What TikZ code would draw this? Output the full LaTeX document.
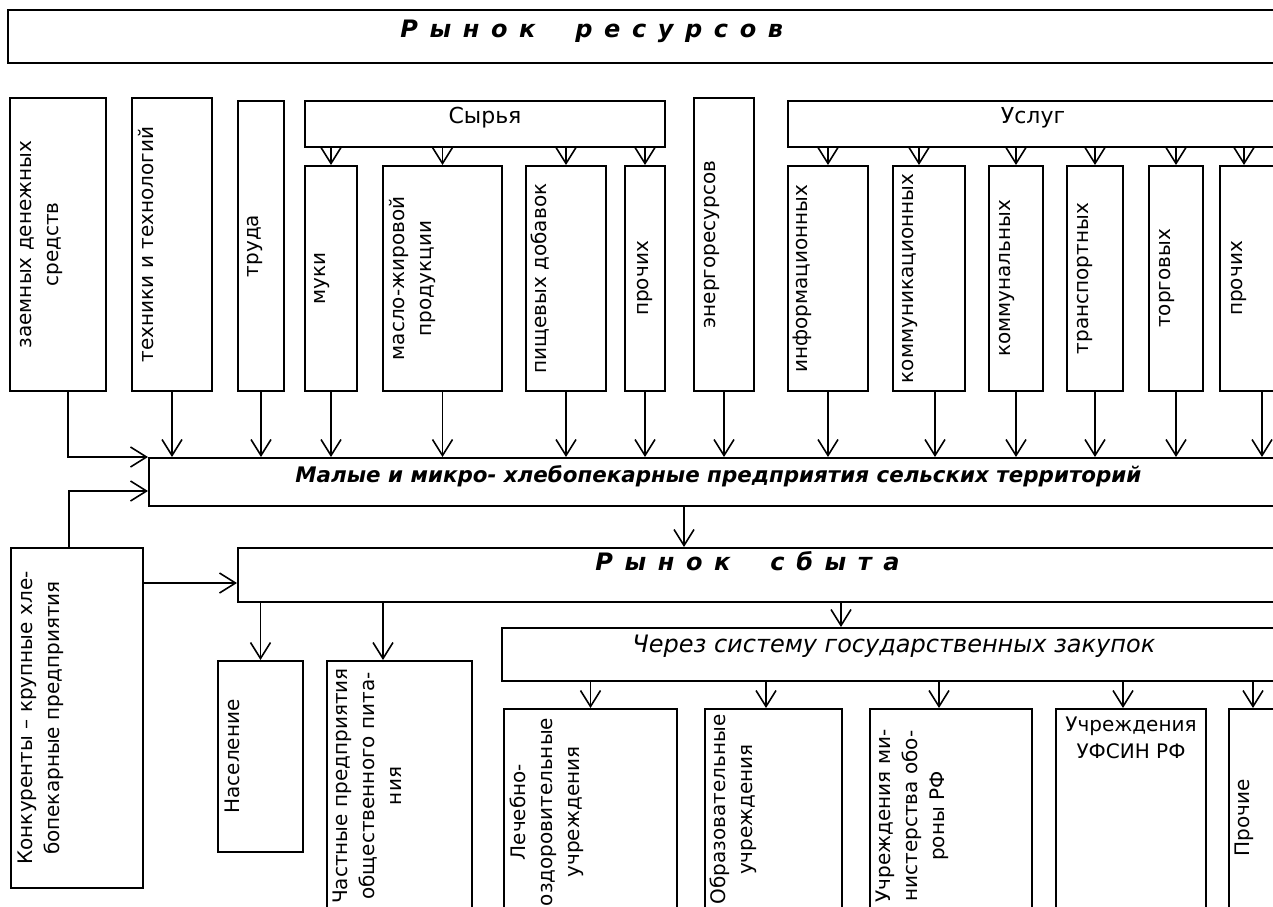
\documentclass[tikz,border=0pt]{standalone}
\usepackage{fontspec}
\setmainfont{DejaVu Sans}
\usetikzlibrary{arrows.meta}
\usetikzlibrary{fit}

\newcommand{\boxfont}{\fontsize{10}{13.5}\selectfont}
\newcommand{\capfont}{\fontsize{11}{13}\selectfont}
\newcommand{\headfont}{\fontsize{10.7}{13}\selectfont\bfseries\itshape}
\newcommand{\spacedfont}{\fontsize{12}{13}\selectfont\bfseries\itshape\spaceskip=5.8pt\relax}
\newcommand{\zakfont}{\fontsize{12}{14}\selectfont\itshape}

\begin{document}
\begin{tikzpicture}[x=0.5pt, y=-0.5pt,
  box/.style={draw, line width=1pt, inner sep=0pt},
  vtext/.style={rotate=90, anchor=north, align=center, inner sep=0pt, font=\boxfont},
  htext/.style={align=center, inner sep=0pt, font=\boxfont},
  captext/.style={anchor=base, inner sep=0pt, font=\capfont},
  head/.style={anchor=base west, inner sep=0pt, font=\headfont},
  spaced/.style={anchor=base west, inner sep=0pt, font=\spacedfont},
  arr/.style={line width=0.8pt, -{Straight Barb[length=8pt, width=10pt]}}]
  \useasboundingbox (0,0) rectangle (1273,906);
  \clip (0,0) rectangle (1273,906);

  % market of resources
  \node[box, fit={(8,10) (1300,63)}] (res) {};
  \node[spaced] (resT) at (400,37) {Р ы н о к\hspace{20pt}р е с у р с о в};

  % resources
  \node[box, fit={(10,98) (106,391)}] (zaem) {};
  \node[vtext] (zaemT) at ([xshift=1.5pt]zaem.west) {\strut заемных денежных\\средств};
  \node[box, fit={(132,98) (212,391)}] (tech) {};
  \node[vtext] (techT) at ([xshift=1.5pt]tech.west) {\strut техники и технологий};
  \node[box, fit={(238,101) (284,391)}] (trud) {};
  \node[vtext] (trudT) at ([xshift=1pt]trud.west) {\strut труда};

  % raw materials
  \node[box, fit={(305,101) (665,147)}] (syr) {};
  \node[captext] (syrT) at ([yshift=-11.5pt]syr.north) {Сырья};
  \node[box, fit={(305,166) (357,391)}] (muka) {};
  \node[vtext] (mukaT) at ([xshift=1pt]muka.west) {\strut муки};
  \node[box, fit={(383,166) (502,391)}] (maslo) {};
  \node[vtext] (masloT) at ([xshift=1.5pt]maslo.west) {\strut масло-жировой\\продукции};
  \node[box, fit={(526,166) (606,391)}] (pisch) {};
  \node[vtext] (pischT) at ([xshift=1pt]pisch.west) {\strut пищевых добавок};
  \node[box, fit={(625,166) (665,391)}] (prochS) {};
  \node[vtext] (prochST) at ([xshift=2.5pt]prochS.west) {\strut прочих};

  \node[box, fit={(694,98) (754,391)}] (energ) {};
  \node[vtext] (energT) at ([xshift=1.5pt]energ.west) {\strut энергоресурсов};

  % services
  \node[box, fit={(788,101) (1278,147)}] (usl) {};
  \node[captext] (uslT) at ([yshift=-11.5pt]usl.north) {Услуг};
  \node[box, fit={(788,166) (868,391)}] (info) {};
  \node[vtext] (infoT) at ([xshift=0.5pt]info.west) {\strut информационных};
  \node[box, fit={(893,166) (965,391)}] (komm) {};
  \node[vtext] (kommT) at ([xshift=1pt]komm.west) {\strut коммуникационных};
  \node[box, fit={(989,166) (1043,391)}] (kommun) {};
  \node[vtext] (kommunT) at ([xshift=1.5pt]kommun.west) {\strut коммунальных};
  \node[box, fit={(1067,166) (1123,391)}] (trans) {};
  \node[vtext] (transT) at ([xshift=1.5pt]trans.west) {\strut транспортных};
  \node[box, fit={(1149,166) (1203,391)}] (torg) {};
  \node[vtext] (torgT) at ([xshift=1.5pt]torg.west) {\strut торговых};
  \node[box, fit={(1220,166) (1304,391)}] (prochU) {};
  \node[vtext] (prochUT) at ([xshift=2pt]prochU.west) {\strut прочих};

  % bakeries
  \node[box, fit={(149,458) (1300,506)}] (mid) {};
  \node[head] (midT) at (295,482) {Малые и микро- хлебопекарные предприятия сельских территорий};

  \node[box, fit={(11,548) (143,888)}] (konk) {};
  \node[vtext] (konkT) at ([xshift=1.5pt]konk.west) {\strut Конкуренты – крупные хле-\\бопекарные предприятия};

  % market of sales
  \node[box, fit={(238,548) (1300,602)}] (sbyt) {};
  \node[spaced] (sbytT) at (595,570) {Р ы н о к\hspace{20pt}с б ы т а};
  \node[box, fit={(218,661) (303,852)}] (nas) {};
  \node[vtext] (nasT) at ([xshift=1.5pt]nas.west) {\strut Население};
  \node[box, fit={(327,661) (472,911)}] (chast) {};
  \node[vtext] (chastT) at ([xshift=1pt]chast.west) {\strut Частные предприятия\\общественного пита-\\ния};

  % state purchases
  \node[box, fit={(502,628) (1300,681)}] (zak) {};
  \node[anchor=base west, inner sep=0pt, font=\zakfont] (zakT) at (632,652) {Через систему государственных закупок};
  \node[box, fit={(504,709) (677,915)}] (lech) {};
  \node[vtext] (lechT) at ([xshift=1.5pt]lech.west) {\strut Лечебно-\\оздоровительные\\учреждения};
  \node[box, fit={(705,709) (842,910)}] (obr) {};
  \node[vtext] (obrT) at ([xshift=1pt]obr.west) {\strut Образовательные\\учреждения};
  \node[box, fit={(870,709) (1032,923)}] (mino) {};
  \node[vtext] (minoT) at ([xshift=1pt]mino.west) {\strut Учреждения ми-\\нистерства обо-\\роны РФ};
  \node[box, fit={(1056,709) (1206,925)}] (ufsin) {};
  \node[htext, anchor=north] (ufsinT) at ([yshift=-2pt]ufsin.north) {\strut Учреждения\\УФСИН РФ};
  \node[box, fit={(1229,709) (1277,927)}] (proch) {};
  \node[vtext] (prochT) at ([xshift=1pt]proch.west) {\strut Прочие};

  % raw materials and services to their kinds
  \draw[arr] (muka.north |- syr.south) -- (muka.north);
  \draw[arr] (maslo.north |- syr.south) -- (maslo.north);
  \draw[arr] (pisch.north |- syr.south) -- (pisch.north);
  \draw[arr] (prochS.north |- syr.south) -- (prochS.north);
  \draw[arr] (info.north |- usl.south) -- (info.north);
  \draw[arr] ([xshift=-5pt]komm.north |- usl.south) -- ([xshift=-5pt]komm.north);
  \draw[arr] (kommun.north |- usl.south) -- (kommun.north);
  \draw[arr] (trans.north |- usl.south) -- (trans.north);
  \draw[arr] (torg.north |- usl.south) -- (torg.north);
  \draw[arr] ([xshift=-9pt]prochU.north |- usl.south) -- ([xshift=-9pt]prochU.north);

  % resources to bakeries
  \draw[arr] ([xshift=5pt]zaem.south) |- (mid.north west);
  \draw[arr] (tech.south) -- (tech.south |- mid.north);
  \draw[arr] (trud.south) -- (trud.south |- mid.north);
  \draw[arr] (muka.south) -- (muka.south |- mid.north);
  \draw[arr] (maslo.south) -- (maslo.south |- mid.north);
  \draw[arr] (pisch.south) -- (pisch.south |- mid.north);
  \draw[arr] (prochS.south) -- (prochS.south |- mid.north);
  \draw[arr] (energ.south) -- (energ.south |- mid.north);
  \draw[arr] (info.south) -- (info.south |- mid.north);
  \draw[arr] ([xshift=3pt]komm.south) -- ([xshift=3pt]komm.south |- mid.north);
  \draw[arr] (kommun.south) -- (kommun.south |- mid.north);
  \draw[arr] (trans.south) -- (trans.south |- mid.north);
  \draw[arr] (torg.south) -- (torg.south |- mid.north);
  \draw[arr] (prochU.south) -- (prochU.south |- mid.north);

  % competitors
  \draw[arr] ([xshift=-4pt]konk.north) |- ([yshift=-4.5pt]mid.west);
  \draw[arr] ([yshift=-4pt]sbyt.west -| konk.east) -- ([yshift=-4pt]sbyt.west);

  % bakeries to market of sales
  \draw[arr] ([xshift=-20.25pt]mid.south) -- ([xshift=-20.25pt]mid.south |- sbyt.north);
  \draw[arr] (nas.north |- sbyt.south) -- (nas.north);
  \draw[arr] ([xshift=-8.25pt]chast.north |- sbyt.south) -- ([xshift=-8.25pt]chast.north);
  \draw[arr] ([xshift=-30pt]zak.north |- sbyt.south) -- ([xshift=-30pt]zak.north);

  % state purchases to institutions
  \draw[arr] (lech.north |- zak.south) -- (lech.north);
  \draw[arr] ([xshift=-3.75pt]obr.north |- zak.south) -- ([xshift=-3.75pt]obr.north);
  \draw[arr] ([xshift=-6pt]mino.north |- zak.south) -- ([xshift=-6pt]mino.north);
  \draw[arr] ([xshift=-4pt]ufsin.north |- zak.south) -- ([xshift=-4pt]ufsin.north);
  \draw[arr] (proch.north |- zak.south) -- (proch.north);
\end{tikzpicture}
\end{document}
